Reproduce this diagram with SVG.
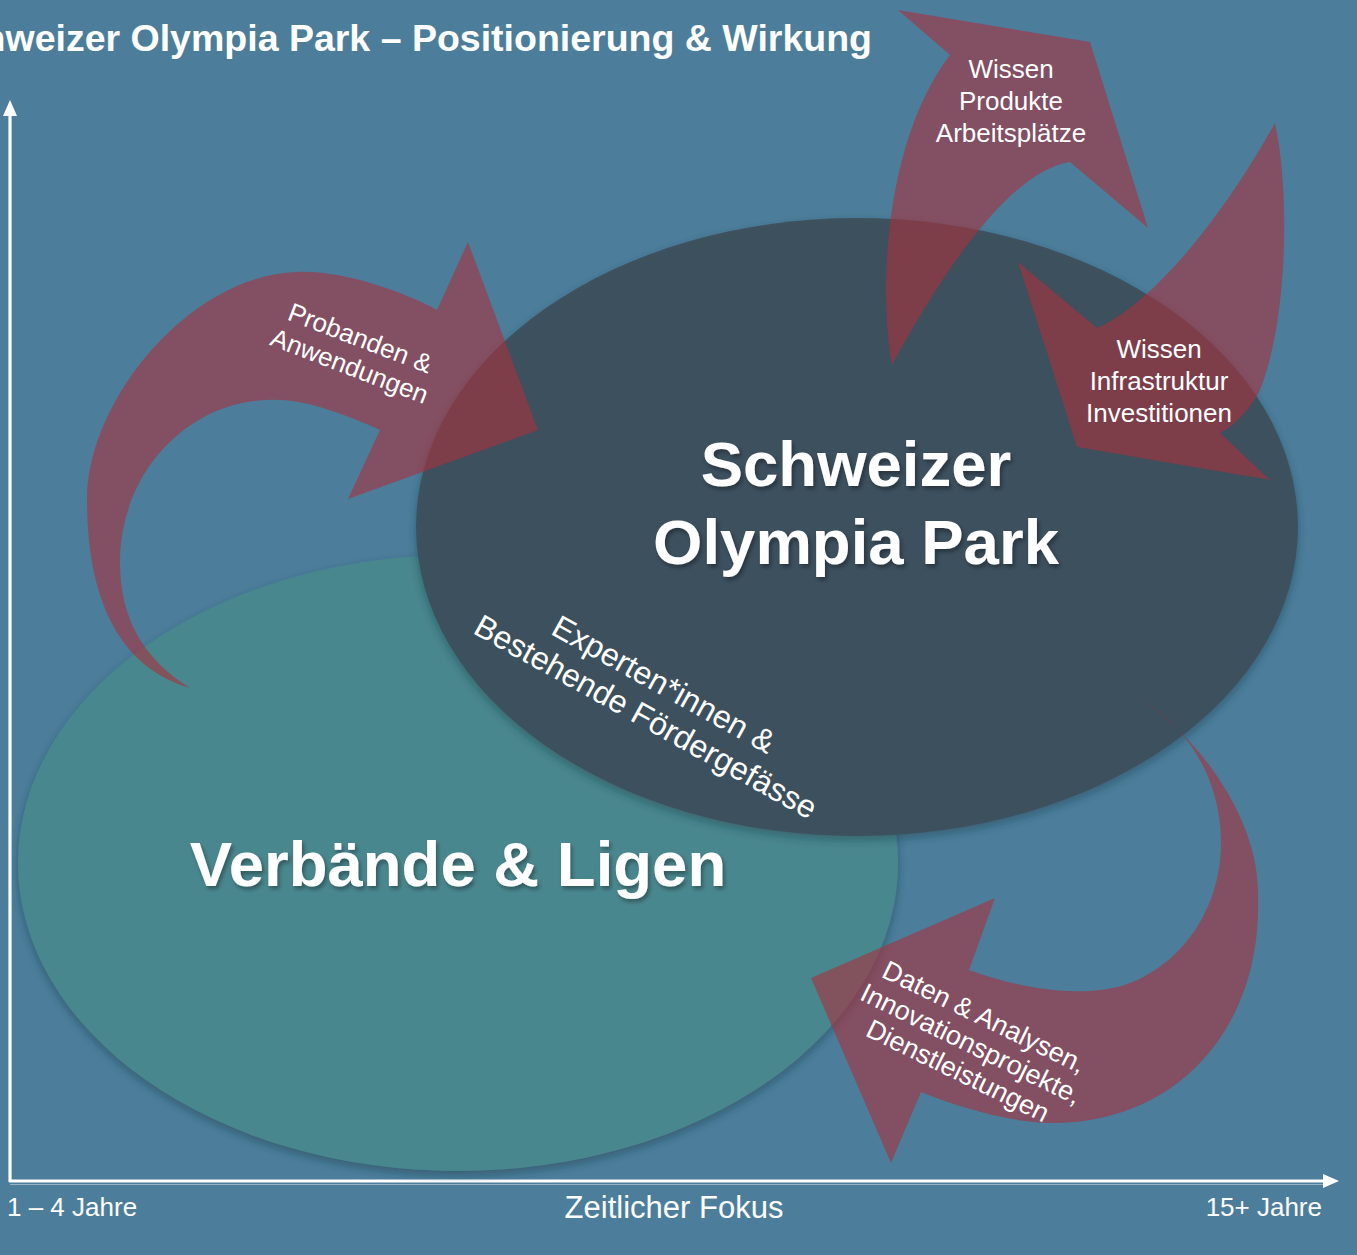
<svg xmlns="http://www.w3.org/2000/svg" width="1357" height="1255" viewBox="0 0 1357 1255">
  <defs>
    <style>
      .bg { fill: #4C7E9B; }
      .title { font-family: "Liberation Sans", Arial, sans-serif; font-weight: bold; font-size: 37.5px; fill: #FFFFFF; }
      .big { font-family: "Liberation Sans", Arial, sans-serif; font-weight: bold; font-size: 63.5px; fill: #FFFFFF; text-anchor: middle; }
      .lbl { font-family: "Liberation Sans", Arial, sans-serif; font-size: 26px; fill: #FFFFFF; text-anchor: middle; }
      .lbl2 { font-family: "Liberation Sans", Arial, sans-serif; font-size: 27px; fill: #FFFFFF; text-anchor: middle; }
      .mid { font-family: "Liberation Sans", Arial, sans-serif; font-size: 32px; fill: #FFFFFF; text-anchor: middle; }
      .axis { font-family: "Liberation Sans", Arial, sans-serif; font-size: 26px; fill: #FFFFFF; }
      .axisc { font-family: "Liberation Sans", Arial, sans-serif; font-size: 31px; fill: #FFFFFF; text-anchor: middle; }
      .arrow { fill: #A8303C; fill-opacity: 0.6; }
      .axline { stroke: #FFFFFF; stroke-width: 3.2; fill: none; }
    </style>
    <filter id="soft" x="-10%" y="-10%" width="120%" height="125%">
      <feDropShadow dx="0" dy="4" stdDeviation="5" flood-color="#1E3340" flood-opacity="0.45"/>
    </filter>
    <filter id="tshadow" x="-10%" y="-20%" width="120%" height="140%">
      <feDropShadow dx="2" dy="3" stdDeviation="2" flood-color="#000000" flood-opacity="0.35"/>
    </filter>
  </defs>

  <rect class="bg" x="0" y="0" width="1357" height="1255"/>

  <text class="title" x="872" y="51" text-anchor="end">Schweizer Olympia Park – Positionierung &amp; Wirkung</text>

  <g id="axes">
    <line class="axline" x1="10" y1="1182" x2="10" y2="112"/>
    <polygon points="10,100 3,116 17,116" fill="#FFFFFF"/>
    <line x1="10" y1="1184.5" x2="1326" y2="1184.5" stroke="#B8CCD8" stroke-width="1.2" stroke-opacity="0.7"/>
    <line class="axline" x1="9" y1="1181" x2="1326" y2="1181"/>
    <polygon points="1339,1181 1323,1174 1323,1188" fill="#FFFFFF"/>
    <text class="axis" x="7" y="1216">1 – 4 Jahre</text>
    <text class="axisc" x="674" y="1218">Zeitlicher Fokus</text>
    <text class="axis" x="1322" y="1216" text-anchor="end">15+ Jahre</text>
  </g>

  <g id="node-verbaende">
    <ellipse cx="458" cy="863" rx="440" ry="308" fill="#4A878E" filter="url(#soft)"/>
    <text class="big" x="458" y="886" filter="url(#tshadow)">Verbände &amp; Ligen</text>
  </g>

  <g id="node-sop">
    <ellipse cx="857" cy="527" rx="441" ry="309" fill="#3E4F5B" fill-opacity="0.94" filter="url(#soft)"/>
    <text class="big" x="856" y="486" filter="url(#tshadow)">Schweizer</text>
    <text class="big" x="856" y="564" filter="url(#tshadow)">Olympia Park</text>
  </g>

  <g id="node-experten">
    <g transform="translate(655,700) rotate(29)">
      <text class="mid" x="0" y="-7">Experten*innen &amp;</text>
      <text class="mid" x="0" y="30">Bestehende Fördergefässe</text>
    </g>
  </g>

  <g id="connectors">
    <g id="arrow-probanden">
      <path class="arrow" d="M 190 688 C 120 668 87 600 87 500 C 87 400 190 275 297 272 C 340 270 400 290 437 310 L 468 242 L 538 430 L 348 499 L 380 430 C 340 412 300 398 267 400 C 190 402 120 470 120 563 C 120 620 145 660 190 688 Z"/>
      <g transform="translate(355,352) rotate(21)">
        <text class="lbl" x="0" y="-6">Probanden &amp;</text>
        <text class="lbl" x="0" y="24">Anwendungen</text>
      </g>
    </g>
    <g id="arrow-wissen-produkte">
      <path class="arrow" d="M 892 365 C 878 290 885 140 950 55 L 898 10 L 1090 42 L 1148 228 L 1070 162 C 1020 170 960 240 892 365 Z"/>
      <text class="lbl" x="1011" y="78">Wissen</text>
      <text class="lbl" x="1011" y="110">Produkte</text>
      <text class="lbl" x="1011" y="142">Arbeitsplätze</text>
    </g>
    <g id="arrow-wissen-infrastruktur">
      <path class="arrow" d="M 1275 123 C 1290 190 1288 320 1260 390 C 1250 410 1235 425 1220 433 L 1270 480 L 1077 447 L 1018 262 L 1097 328 C 1140 310 1210 240 1275 123 Z"/>
      <text class="lbl" x="1159" y="358">Wissen</text>
      <text class="lbl" x="1159" y="390">Infrastruktur</text>
      <text class="lbl" x="1159" y="422">Investitionen</text>
    </g>
    <g id="arrow-daten">
      <path class="arrow" d="M 1143 700 C 1200 740 1260 820 1258 897 C 1262 1030 1175 1125 1049 1123 C 1010 1122 960 1108 921 1092 L 891 1163 L 811 978 L 995 898 L 969 970 C 1030 992 1090 998 1130 983 C 1185 962 1222 905 1221 840 C 1220 780 1190 730 1143 700 Z"/>
      <g transform="translate(971,1044) rotate(26)">
        <text class="lbl2" x="0" y="-21">Daten &amp; Analysen,</text>
        <text class="lbl2" x="0" y="9">Innovationsprojekte,</text>
        <text class="lbl2" x="0" y="39">Dienstleistungen</text>
      </g>
    </g>
  </g>
</svg>
